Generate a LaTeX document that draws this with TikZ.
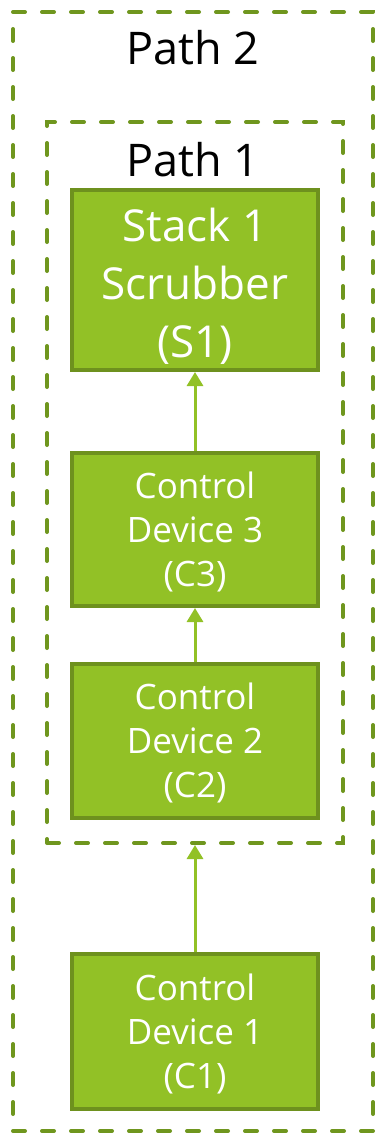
\documentclass[tikz,border=0pt]{standalone}
\usepackage{fontspec}
\setmainfont{Open Sans}
\usetikzlibrary{arrows.meta}
\definecolor{boxfill}{RGB}{146,193,38}
\definecolor{boxedge}{RGB}{110,145,30}
\definecolor{pathedge}{RGB}{111,150,30}
\tikzset{
  unit/.style={draw=boxedge, fill=boxfill, line width=4pt, minimum width=246pt,
    inner sep=0pt},
  unitlabel/.style={align=center, text=white, inner sep=0pt},
  bigtext/.style={font=\fontsize{44}{58}\selectfont},
  smalltext/.style={font=\fontsize{35}{44}\selectfont},
  pathbox/.style={draw=pathedge, line width=4pt, dash pattern=on 12pt off 17pt,
    line cap=round, inner sep=0pt},
  pathlabel/.style={font=\fontsize{45}{54}\selectfont, text=black, inner sep=0pt},
  flow/.style={draw=boxfill, line width=3pt, -{Triangle[width=16pt,length=14pt]}}
}
\begin{document}
\begin{tikzpicture}[x=1pt,y=-1pt]
\useasboundingbox (0,0) rectangle (380,1135);
% nested dashed path frames
\node[pathbox, minimum width=360pt, minimum height=1119pt] (p2) at (193,571.5) {};
\node[pathbox, minimum width=296pt, minimum height=721pt] (p1) at (195,482.5) {};
\node[pathlabel] (l2) at (193,48) {Path 2};
\node[pathlabel] (l1) at (193,160) {Path 1};
% equipment units
\node[unit, minimum height=180pt] (s1) at (195,280) {};
\node[unit, minimum height=153pt] (c3) at (195,529.5) {};
\node[unit, minimum height=154pt] (c2) at (195,741) {};
\node[unit, minimum height=155pt] (c1) at (195,1031.5) {};
\node[unitlabel, bigtext] (s1t) at ([yshift=-6pt]s1.center) {Stack 1\\Scrubber\\(S1)};
\node[unitlabel, smalltext] (c3t) at ([yshift=-2pt]c3.center) {Control\\Device 3\\(C3)};
\node[unitlabel, smalltext] (c2t) at ([yshift=-2pt]c2.center) {Control\\Device 2\\(C2)};
\node[unitlabel, smalltext] (c1t) at ([yshift=-2pt]c1.center) {Control\\Device 1\\(C1)};
% flow arrows
\draw[flow] (c3.north) -- (s1.south);
\draw[flow] (c2.north) -- (c3.south);
\draw[flow] (c1.north) -- (p1.south);
\end{tikzpicture}
\end{document}
